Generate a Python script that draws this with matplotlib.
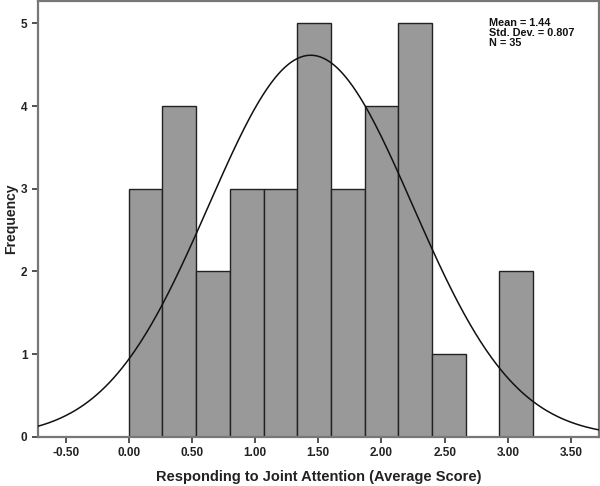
import matplotlib
matplotlib.use("Agg")
import matplotlib.pyplot as plt
from matplotlib.ticker import FixedLocator, FormatStrFormatter
import numpy as np

# histogram counts, bins start at 0.00, width 3.2/12
counts = [3, 4, 2, 3, 3, 5, 3, 4, 5, 1, 0, 2]
bin_start = 0.0
bin_width = 3.2 / 12
mean = 1.44
sd = 0.807
n = 35
xticks = [-0.5, 0.0, 0.5, 1.0, 1.5, 2.0, 2.5, 3.0, 3.5]
yticks = [0, 1, 2, 3, 4, 5]

plt.rcParams['font.family'] = ['Liberation Sans', 'DejaVu Sans']
plt.rcParams['font.weight'] = 'bold'

fig = plt.figure(figsize=(6, 4.86), dpi=100)
ax = fig.add_axes([0.063, 0.101, 0.935, 0.897])

lefts = [bin_start + i * bin_width for i in range(len(counts))]
ax.bar(lefts, counts, width=bin_width, align='edge', color='#999999',
       edgecolor='#222222', linewidth=1.0, zorder=2)

xs = np.linspace(-0.72, 3.72, 400)
curve = n * bin_width / (sd * np.sqrt(2 * np.pi)) * np.exp(-0.5 * ((xs - mean) / sd) ** 2)
ax.plot(xs, curve, color='#111111', linewidth=1.1, zorder=3)

ax.set_xlim(-0.72, 3.72)
ax.set_ylim(0, 5.27)
ax.xaxis.set_major_locator(FixedLocator(xticks))
ax.xaxis.set_major_formatter(FormatStrFormatter('%.2f'))
ax.yaxis.set_major_locator(FixedLocator(yticks))

for s in ax.spines.values():
    s.set_color('#777777')
    s.set_linewidth(1.6)
ax.tick_params(axis='both', direction='out', length=4, width=1.2,
               color='#333333', labelsize=8.5)
for lab in ax.get_xticklabels() + ax.get_yticklabels():
    lab.set_fontweight('bold')
    lab.set_color('#222222')

ax.set_xlabel('Responding to Joint Attention (Average Score)', fontsize=10.5,
              fontweight='bold', color='#222222', labelpad=8)
ax.set_ylabel('Frequency', fontsize=10, fontweight='bold', color='#222222', labelpad=2)

ax.text(0.805, 0.96, 'Mean = 1.44\nStd. Dev. = 0.807\nN = 35', transform=ax.transAxes,
        ha='left', va='top', fontsize=7.8, fontweight='bold', linespacing=0.95, color='#111111')

fig.savefig('out.png', dpi=100)
